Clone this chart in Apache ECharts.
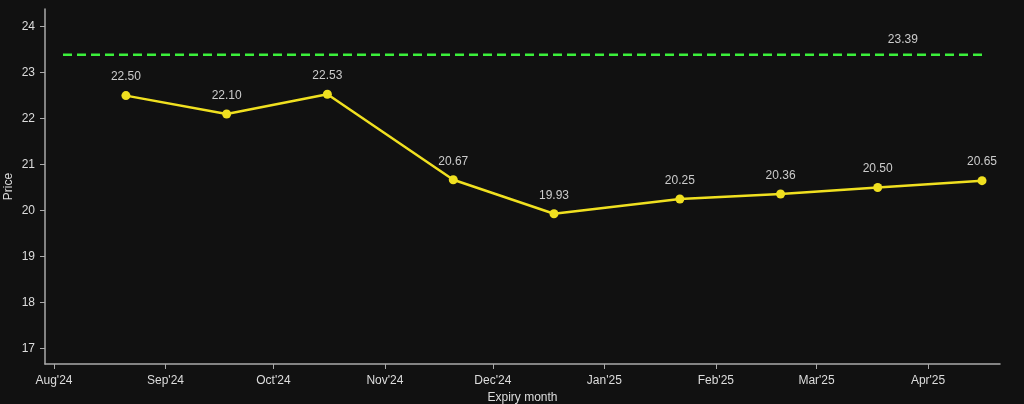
<!DOCTYPE html>
<html><head><meta charset="utf-8">
<script src="https://cdn.jsdelivr.net/npm/echarts@6/dist/echarts.min.js"></script>
<style>html,body{margin:0;padding:0;background:#111111;}#c{width:1024px;height:404px;}</style>
</head><body><div id="c"></div>
<script>
const expiries = ['2024-08-21','2024-09-18','2024-10-16','2024-11-20','2024-12-18','2025-01-22','2025-02-19','2025-03-18','2025-04-16'];
const prices = [22.50, 22.10, 22.53, 20.67, 19.93, 20.25, 20.36, 20.50, 20.65];
const spotValue = 23.39;
const spotDates = ['2024-08-03T12:00:00','2025-03-25T00:00:00','2025-04-16T00:00:00'];
const yTicks = [17, 18, 19, 20, 21, 22, 23, 24];
const xTicks = ['2024-08-01','2024-09-01','2024-10-01','2024-11-01','2024-12-01','2025-01-01','2025-02-01','2025-03-01','2025-04-01'];
const monthNames = ['Jan','Feb','Mar','Apr','May','Jun','Jul','Aug','Sep','Oct','Nov','Dec'];

const ts = s => new Date(s.length > 10 ? s : s + 'T00:00:00').getTime();
const chart = echarts.init(document.getElementById('c'));
const ff = 'Liberation Sans, Arial, sans-serif';
const xTickVals = xTicks.map(ts);
chart.setOption({
  backgroundColor: '#111111',
  animation: false,
  grid: {left: 45, right: 24, top: 9, bottom: 40, containLabel: false, outerBoundsMode: 'none'},
  xAxis: {
    type: 'value',
    min: ts('2024-07-29T12:00:00'),
    max: ts('2025-04-21T00:00:00'),
    name: 'Expiry month', nameLocation: 'middle', nameGap: 27,
    nameTextStyle: {color: '#dddddd', fontSize: 12, fontFamily: ff},
    axisLine: {show: true, lineStyle: {color: '#aaaaaa', width: 1.5}},
    axisTick: {show: true, length: 5, lineStyle: {color: '#aaaaaa'}, customValues: xTickVals},
    axisLabel: {color: '#dddddd', fontSize: 12, fontFamily: ff, margin: 11, customValues: xTickVals,
      formatter: v => { const d = new Date(v); return monthNames[d.getMonth()] + "'" + String(d.getFullYear()).slice(2); }},
    splitLine: {show: false}
  },
  yAxis: {
    type: 'value', min: 16.66, max: 24.385,
    name: 'Price', nameLocation: 'middle', nameGap: 30, nameMoveOverlap: false,
    nameTextStyle: {color: '#dddddd', fontSize: 12, fontFamily: ff},
    axisLine: {show: true, lineStyle: {color: '#aaaaaa', width: 1.5}},
    axisTick: {show: true, length: 5, lineStyle: {color: '#aaaaaa'}, customValues: yTicks},
    axisLabel: {color: '#dddddd', fontSize: 12, fontFamily: ff, margin: 10, customValues: yTicks},
    splitLine: {show: false}
  },
  series: [
    {
      type: 'line',
      data: spotDates.map((d, i) => ({value: [ts(d), spotValue], label: {show: i === 1}})),
      symbol: 'circle', symbolSize: 0, showSymbol: true,
      itemStyle: {color: '#3bf03b'},
      lineStyle: {color: '#3bf03b', width: 2.5, type: [9, 5]},
      label: {show: false, position: 'top', distance: 9, color: '#cccccc', fontSize: 12, fontFamily: ff,
        formatter: p => p.value[1].toFixed(2)},
      z: 1
    },
    {
      type: 'line',
      data: expiries.map((d, i) => [ts(d), prices[i]]),
      symbol: 'circle', symbolSize: 9,
      itemStyle: {color: '#f0e020'},
      lineStyle: {color: '#f0e020', width: 2.5},
      label: {show: true, position: 'top', distance: 8, color: '#cccccc', fontSize: 12, fontFamily: ff,
        formatter: p => p.value[1].toFixed(2)},
      z: 2
    }
  ]
});
</script></body></html>
